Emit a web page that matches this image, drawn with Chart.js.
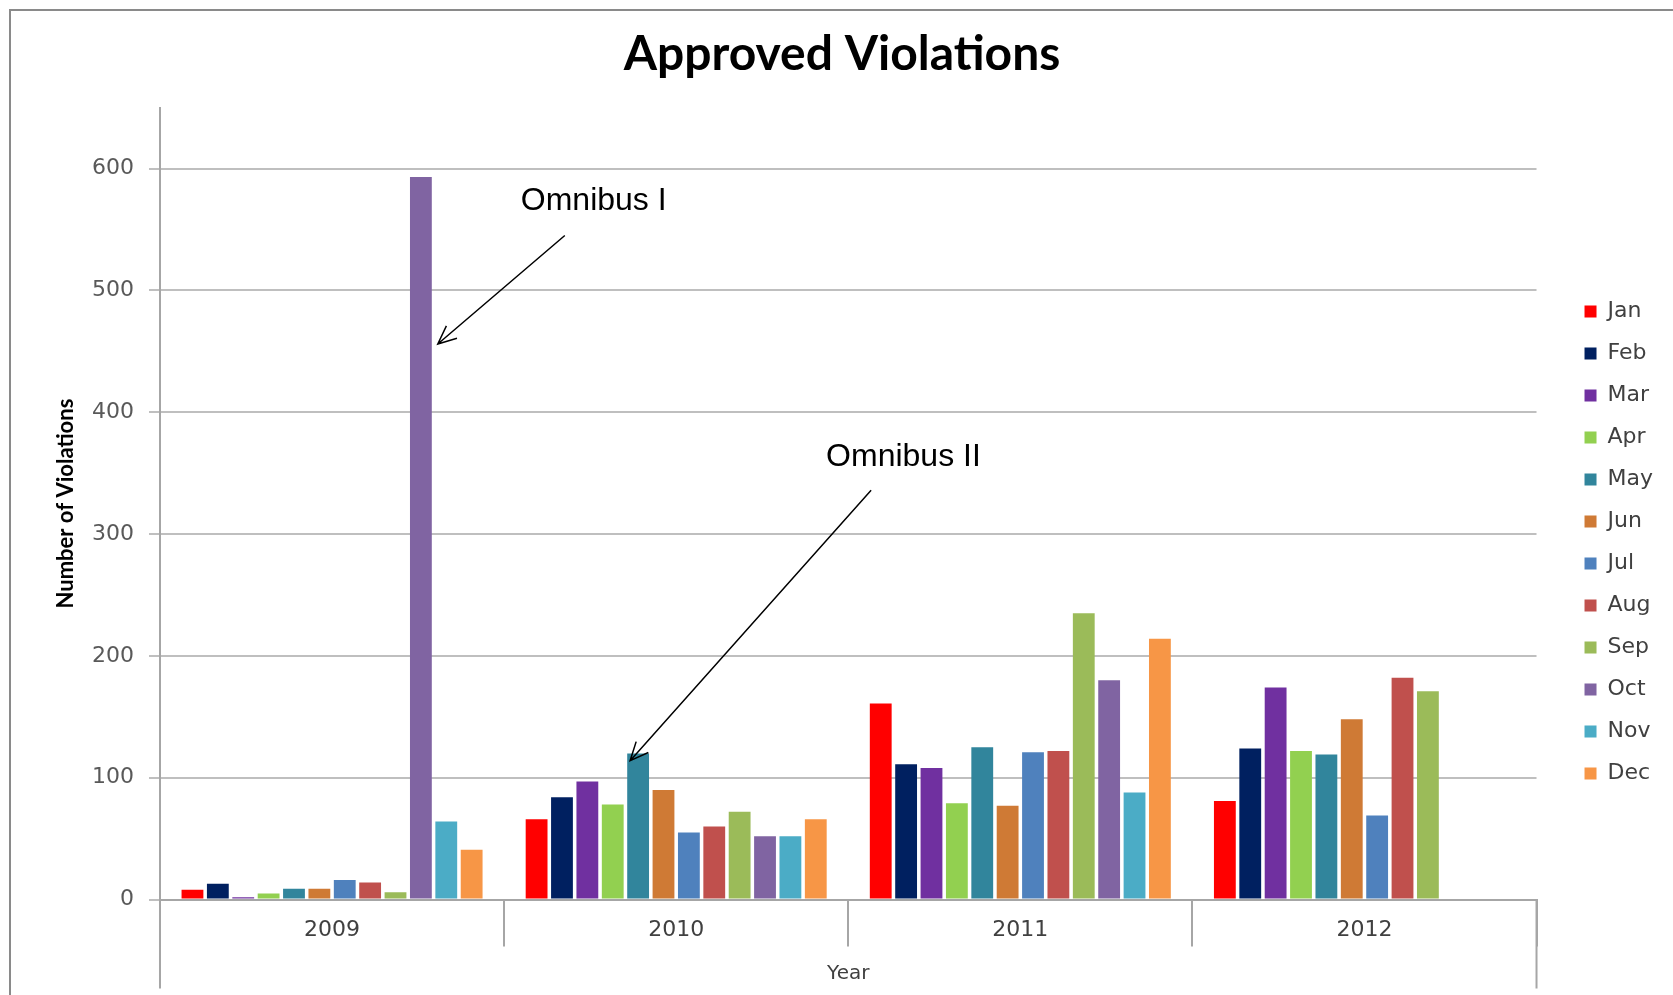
<!DOCTYPE html>
<html>
<head>
<meta charset="utf-8">
<title>Approved Violations</title>
<script src="https://cdn.jsdelivr.net/npm/chart.js@4.4.1/dist/chart.umd.min.js"></script>
<style>
  html, body { margin: 0; padding: 0; background: #fff; overflow: hidden; }
  #frame {
    position: absolute; left: 9px; top: 9px; width: 1700px; height: 1000px;
    border-top: 2px solid #8a8a8a; border-left: 2px solid #8a8a8a;
  }
  #myChart { position: absolute; left: 0; top: 0; }
</style>
</head>
<body>
<div id="frame"></div>
<canvas id="myChart" width="1673" height="995"></canvas>
<script>
// categories and tick labels
const years = ['2009', '2010', '2011', '2012'];
const months = ['Jan', 'Feb', 'Mar', 'Apr', 'May', 'Jun', 'Jul', 'Aug', 'Sep', 'Oct', 'Nov', 'Dec'];
const yTicks = [0, 100, 200, 300, 400, 500, 600];

// violations per month, one value per year (2012 ends at Sep)
const jan = [8, 66, 161, 81];
const feb = [13, 84, 111, 124];
const mar = [2, 97, 108, 174];
const apr = [5, 78, 79, 122];
const may = [9, 120, 125, 119];
const jun = [9, 90, 77, 148];
const jul = [16, 55, 121, 69];
const aug = [14, 60, 122, 182];
const sep = [6, 72, 235, 171];
const oct = [593, 52, 180, null];
const nov = [64, 52, 88, null];
const dec = [41, 66, 214, null];

const monthValues = [jan, feb, mar, apr, may, jun, jul, aug, sep, oct, nov, dec];
const monthColors = ['#FF0000', '#002060', '#7030A0', '#92D050', '#31859C', '#CF7A35',
                     '#4F81BD', '#C0504D', '#9BBB59', '#8064A2', '#4BACC6', '#F79646'];

const tickFont = { family: 'DejaVu Sans', size: 22 };

// arrows with callouts, anchored on a bar
const callouts = [
  { text: 'Omnibus I', dataset: 9, index: 0, side: 1, tipGap: 6, tipValue: 456, tailDx: 127, tailValue: 545, textDx: -44, textValue: 566 },
  { text: 'Omnibus II', dataset: 4, index: 1, side: 0, tipGap: -8, tipValue: 114, tailDx: 241, tailValue: 336, textDx: -45, textValue: 356 }
];

const calloutPlugin = {
  id: 'callouts',
  afterDatasetsDraw(chart) {
    const ctx = chart.ctx;
    const y = chart.scales.y;
    ctx.save();
    ctx.strokeStyle = '#000';
    ctx.fillStyle = '#000';
    ctx.lineWidth = 1.5;
    ctx.font = '32px "Liberation Sans", Arial, sans-serif';
    ctx.textBaseline = 'alphabetic';
    callouts.forEach(c => {
      const bar = chart.getDatasetMeta(c.dataset).data[c.index];
      const tipX = bar.x + c.side * bar.width / 2 + c.tipGap;
      const tipY = y.getPixelForValue(c.tipValue);
      const tailX = tipX + c.tailDx;
      const tailY = y.getPixelForValue(c.tailValue);
      ctx.beginPath();
      ctx.moveTo(tailX, tailY);
      ctx.lineTo(tipX, tipY);
      const ang = Math.atan2(tailY - tipY, tailX - tipX);
      const len = 20, spread = 0.42;
      ctx.moveTo(tipX + len * Math.cos(ang - spread), tipY + len * Math.sin(ang - spread));
      ctx.lineTo(tipX, tipY);
      ctx.lineTo(tipX + len * Math.cos(ang + spread), tipY + len * Math.sin(ang + spread));
      ctx.stroke();
      ctx.fillText(c.text, tailX + c.textDx, y.getPixelForValue(c.textValue));
    });
    ctx.restore();
  }
};

// the outer category lines run further down than the separators
const edgePlugin = {
  id: 'edges',
  afterDraw(chart) {
    const ctx = chart.ctx;
    const a = chart.chartArea;
    ctx.save();
    ctx.strokeStyle = '#A6A6A6';
    ctx.lineWidth = 2;
    ctx.beginPath();
    ctx.moveTo(a.left, a.bottom);
    ctx.lineTo(a.left, a.bottom + 89);
    ctx.moveTo(a.right, a.bottom);
    ctx.lineTo(a.right, a.bottom + 89);
    ctx.stroke();
    ctx.restore();
  }
};

const ctx = document.getElementById('myChart').getContext('2d');

const myChart = new Chart(ctx, {
  type: 'bar',
  data: {
    labels: years,
    datasets: months.map((m, i) => ({
      label: m,
      data: monthValues[i],
      backgroundColor: monthColors[i],
      borderWidth: 0,
      categoryPercentage: 0.885,
      barPercentage: 0.86
    }))
  },
  options: {
    responsive: false,
    animation: false,
    devicePixelRatio: 1,
    layout: { padding: { top: 10, left: 21, right: 10, bottom: 0 } },
    plugins: {
      title: {
        display: true,
        text: 'Approved Violations',
        color: '#000',
        font: { family: 'Lato', size: 48, weight: 'bold' },
        padding: { top: 16, bottom: 24 }
      },
      legend: {
        position: 'right',
        title: { display: true, text: '', font: { size: 10 }, padding: { top: 68, bottom: 0 } },
        labels: {
          boxWidth: 12,
          boxHeight: 12,
          padding: 20,
          color: '#404040',
          font: { family: 'DejaVu Sans', size: 22 }
        }
      },
      tooltip: { enabled: false }
    },
    scales: {
      x: {
        grid: {
          offset: true,
          drawOnChartArea: false,
          tickLength: 47,
          color: '#A6A6A6',
          lineWidth: 2
        },
        border: { color: '#A6A6A6', width: 2 },
        ticks: { color: '#404040', font: tickFont, padding: -30 },
        title: {
          display: true,
          text: 'Year',
          color: '#404040',
          font: { family: 'DejaVu Sans', size: 20 },
          padding: { top: 49, bottom: 9 }
        }
      },
      y: {
        min: 0,
        max: 650,
        afterBuildTicks: scale => { scale.ticks = yTicks.map(v => ({ value: v })); },
        grid: { color: '#BFBFBF', lineWidth: 2, tickLength: 11 },
        border: { color: '#A6A6A6', width: 2 },
        ticks: { color: '#595959', font: tickFont, padding: 15 },
        title: {
          display: true,
          text: 'Number of Violations',
          color: '#000',
          font: { family: 'Lato', size: 22, weight: 'bold', lineHeight: 1 },
          padding: { top: 34, bottom: 0 }
        }
      },
      gap: {
        position: 'right',
        display: true,
        grid: { display: false },
        border: { display: false },
        ticks: { display: false },
        afterFit: scale => { scale.width = 28; }
      }
    }
  },
  plugins: [calloutPlugin, edgePlugin]
});
</script>
</body>
</html>
